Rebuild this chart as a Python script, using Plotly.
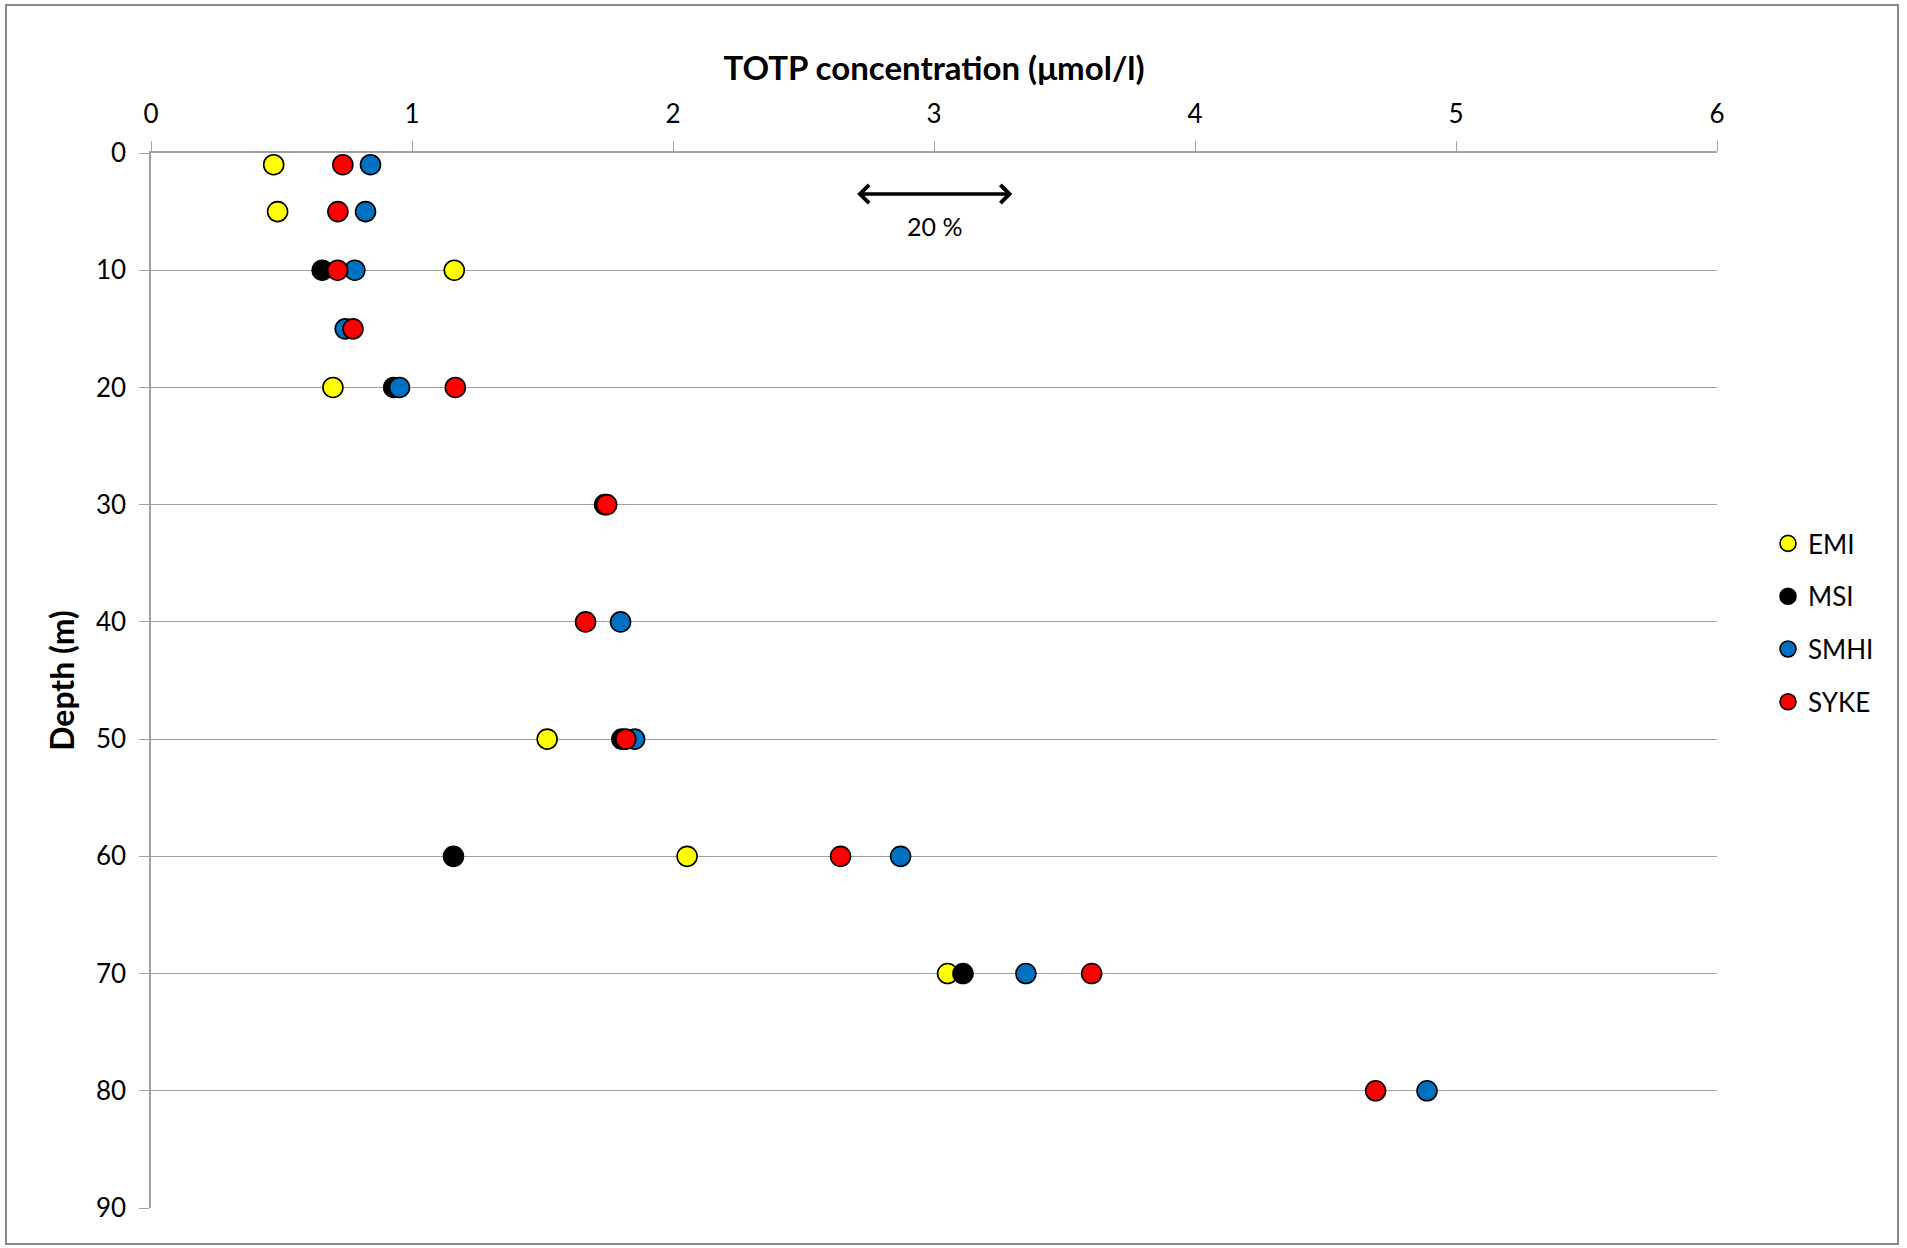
import plotly.graph_objects as go

# ---- data ----
series_names = ["EMI", "MSI", "SMHI", "SYKE"]
series_colors = ["#FFFF00", "#000000", "#0070C0", "#FF0000"]

emi_depth = [1, 5, 10, 20, 50, 60, 70]
emi_conc = [0.47, 0.485, 1.162, 0.697, 1.518, 2.054, 3.052]

msi_depth = [10, 20, 30, 50, 60, 70]
msi_conc = [0.656, 0.930, 1.738, 1.804, 1.159, 3.111]

smhi_depth = [1, 5, 10, 15, 20, 40, 50, 60, 70, 80]
smhi_conc = [0.841, 0.822, 0.781, 0.744, 0.952, 1.799, 1.853, 2.872, 3.352, 4.889]

syke_depth = [1, 5, 10, 15, 20, 30, 40, 50, 60, 70, 80]
syke_conc = [0.735, 0.716, 0.715, 0.774, 1.166, 1.746, 1.665, 1.819, 2.642, 3.604, 4.692]

x_ticks = [0, 1, 2, 3, 4, 5, 6]
y_ticks = [0, 10, 20, 30, 40, 50, 60, 70, 80, 90]

arrow_x = [2.7, 3.3]
arrow_depth = 3.5
arrow_label = "20 %"
arrow_label_pos = [3.0, 6.2]

FONT = "Lato, Calibri, sans-serif"
GRID = "#A0A0A0"

depths = [emi_depth, msi_depth, smhi_depth, syke_depth]
concs = [emi_conc, msi_conc, smhi_conc, syke_conc]

fig = go.Figure()
for i, (name, color, d, c) in enumerate(zip(series_names, series_colors, depths, concs)):
    fig.add_trace(go.Scatter(
        x=c, y=d, mode="markers", name=name, legendgroup=name,
        marker=dict(size=20, color=color, line=dict(color="#000000", width=1.6)),
    ))

W, H = 1907, 1248
L, R, T, B = 151, 190, 153, 40
pw = W - L - R
ph = H - T - B

def px2paper_x(px):
    return (px - L) / pw

def px2paper_y(py):
    return (H - B - py) / ph

fig.update_layout(
    width=W, height=H,
    margin=dict(l=L, r=R, t=T, b=B, pad=0),
    paper_bgcolor="white", plot_bgcolor="white",
    font=dict(family=FONT, size=26, color="#000000"),
    showlegend=True,
    legend=dict(
        x=px2paper_x(1768), y=px2paper_y(520), xanchor="left", yanchor="top",
        font=dict(family=FONT, size=26), bgcolor="rgba(0,0,0,0)",
        tracegroupgap=16, traceorder="grouped", itemwidth=30,
    ),
    xaxis=dict(
        side="top", range=[0, 6], tickvals=x_ticks, ticktext=[str(v) for v in x_ticks],
        showgrid=False, zeroline=False, showline=True, linecolor=GRID, linewidth=1.5,
        ticks="outside", ticklen=10, tickcolor=GRID, tickwidth=1.2,
        tickfont=dict(family=FONT, size=26), ticklabelstandoff=8,
        title=dict(text="<b>TOTP concentration (μmol/l)</b>", font=dict(family=FONT, size=33), standoff=6),
    ),
    yaxis=dict(
        range=[90, 0], tickvals=y_ticks, ticktext=[str(v) for v in y_ticks],
        showgrid=True, gridcolor=GRID, gridwidth=1.3, zeroline=False,
        showline=True, linecolor=GRID, linewidth=1.5,
        ticks="outside", ticklen=10, tickcolor=GRID, tickwidth=1.2,
        tickfont=dict(family=FONT, size=26), ticklabelstandoff=8,
        title=dict(text="<b>Depth (m)</b>", font=dict(family=FONT, size=32), standoff=12),
    ),
)

# double-headed 20 % arrow
fig.add_annotation(
    x=arrow_x[1], y=arrow_depth, ax=arrow_x[0], ay=arrow_depth,
    xref="x", yref="y", axref="x", ayref="y",
    showarrow=True, arrowhead=4, startarrowhead=4, arrowside="end+start",
    arrowwidth=3.5, arrowsize=1, startarrowsize=1, arrowcolor="#000000", text="",
)
fig.add_annotation(
    x=arrow_label_pos[0], y=arrow_label_pos[1], xref="x", yref="y",
    text=arrow_label, showarrow=False, font=dict(family=FONT, size=25),
)

# outer chart border
fig.add_shape(
    type="rect", xref="paper", yref="paper",
    x0=px2paper_x(6), x1=px2paper_x(1898), y0=px2paper_y(1244), y1=px2paper_y(5),
    line=dict(color="#888888", width=2), fillcolor="rgba(0,0,0,0)", layer="below",
)

fig.write_html("out.html")
